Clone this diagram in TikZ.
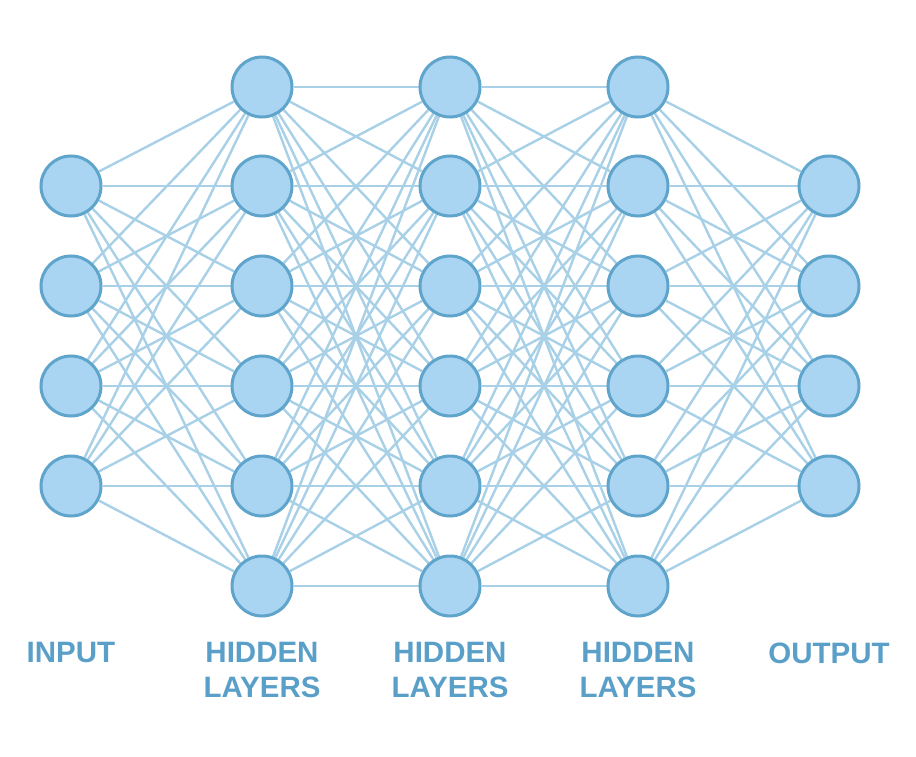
\documentclass[tikz,border=0pt]{standalone}
\usepackage{fontspec}
\setsansfont{Liberation Sans}
\usetikzlibrary{backgrounds}
\definecolor{nfill}{HTML}{A9D5F3}
\definecolor{nborder}{HTML}{5FA4CA}
\definecolor{edgec}{HTML}{A8D0E7}
\definecolor{txtc}{HTML}{5A9FC8}
\begin{document}
\begin{tikzpicture}[x=1pt,y=-1pt,
  neuron/.style={circle,fill=nfill,draw=nborder,line width=3pt,minimum size=60pt,inner sep=0pt},
  conn/.style={edgec,line width=2.4pt},
  lbl/.style={text=txtc,font=\sffamily\bfseries\fontsize{29.5}{35}\selectfont,align=center,anchor=north}]
\useasboundingbox (0,0) rectangle (916,757);
\foreach \i/\y in {1/186,2/286,3/386,4/486} \node[neuron] (i\i) at (71,\y) {};
\foreach \i/\y in {1/186,2/286,3/386,4/486} \node[neuron] (o\i) at (829,\y) {};
\foreach \l/\x in {a/262,b/450,c/638}
  \foreach \i/\y in {1/87,2/186,3/286,4/386,5/486,6/586}
    \node[neuron] (\l\i) at (\x,\y) {};
\begin{scope}[on background layer]
\foreach \i in {1,...,4} \foreach \j in {1,...,6} \draw[conn] (i\i) -- (a\j);
\foreach \i in {1,...,6} \foreach \j in {1,...,6} {\draw[conn] (a\i) -- (b\j); \draw[conn] (b\i) -- (c\j);}
\foreach \i in {1,...,6} \foreach \j in {1,...,4} \draw[conn] (c\i) -- (o\j);
\end{scope}
\node[lbl] (t1) at (71,639) {INPUT};
\node[lbl] (t2) at (262,639) {HIDDEN\\LAYERS};
\node[lbl] (t3) at (450,639) {HIDDEN\\LAYERS};
\node[lbl] (t4) at (638,639) {HIDDEN\\LAYERS};
\node[lbl] (t5) at (829,639) {OUTPUT};
\end{tikzpicture}
\end{document}
